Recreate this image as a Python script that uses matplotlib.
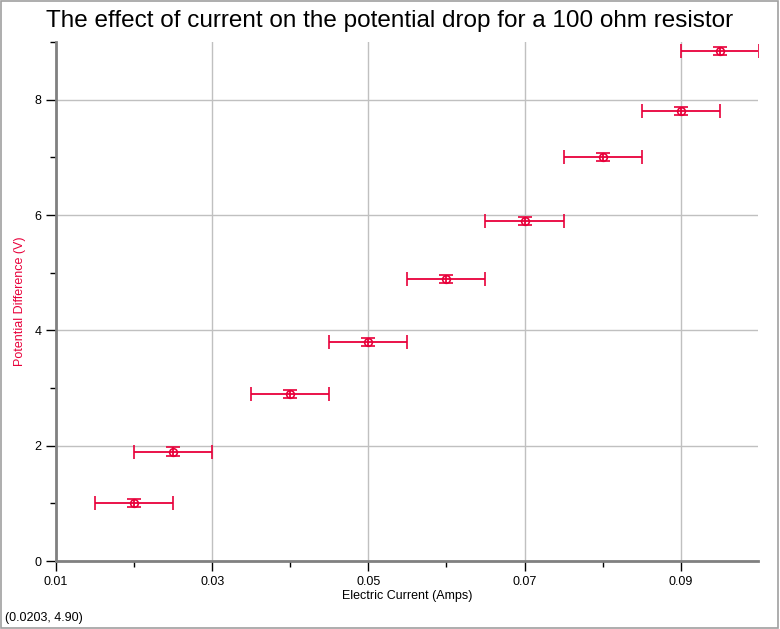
import numpy as np
import matplotlib.pyplot as plt
from matplotlib.ticker import MultipleLocator, FormatStrFormatter

plt.rcParams['font.family'] = ['Liberation Sans', 'DejaVu Sans']

prad = [0.02, 0.025, 0.04, 0.05, 0.06, 0.07, 0.08, 0.09, 0.095]
napiecie = [1.0, 1.9, 2.9, 3.8, 4.9, 5.9, 7.0, 7.8, 8.85]
blad_x = [0.005] * len(prad)
blad_y = [0.07] * len(prad)

kolor = '#E8003A'

fig = plt.figure(figsize=(7.8, 6.29), dpi=100)
ax = fig.add_axes([0.0718, 0.108, 0.9, 0.825])

ax.errorbar(prad, napiecie, xerr=blad_x, yerr=blad_y, fmt='o', mfc='none', mec=kolor,
            ms=5.5, mew=1.2, ecolor=kolor, elinewidth=1.3, capsize=5, capthick=1.3,
            clip_on=True, zorder=3)

ax.set_xlim(0.01, 0.0999)
ax.set_ylim(0, 9)
ax.xaxis.set_major_locator(MultipleLocator(0.02))
ax.xaxis.set_minor_locator(MultipleLocator(0.01))
ax.yaxis.set_major_locator(MultipleLocator(2))
ax.yaxis.set_minor_locator(MultipleLocator(1))
ax.xaxis.set_major_formatter(FormatStrFormatter('%.2f'))
ax.set_xticks([0.01, 0.03, 0.05, 0.07, 0.09])
ax.grid(True, which='major', color='#C0C0C0', linewidth=1)
ax.set_axisbelow(True)

for s in ['top', 'right']:
    ax.spines[s].set_visible(False)
for s in ['left', 'bottom']:
    ax.spines[s].set_color('#808080')
    ax.spines[s].set_linewidth(2)

ax.tick_params(which='major', length=7, width=1, color='black', labelsize=9)
ax.tick_params(which='minor', length=4, width=1, color='black')

fig.text(0.5, 0.9665, 'The effect of current on the potential drop for a 100 ohm resistor',
         fontsize=17.5, ha='center', va='center')
ax.set_xlabel('Electric Current (Amps)', fontsize=9, labelpad=2)
ax.set_ylabel('Potential Difference (V)', fontsize=9, color=kolor, labelpad=6)

fig.text(0.006, 0.013, '(0.0203, 4.90)', fontsize=9)
fig.patches.append(plt.Rectangle((0.001, 0.001), 0.997, 0.998, transform=fig.transFigure,
                                 fill=False, edgecolor='#A0A0A0', linewidth=1.2))

plt.savefig('out.png', dpi=100)
